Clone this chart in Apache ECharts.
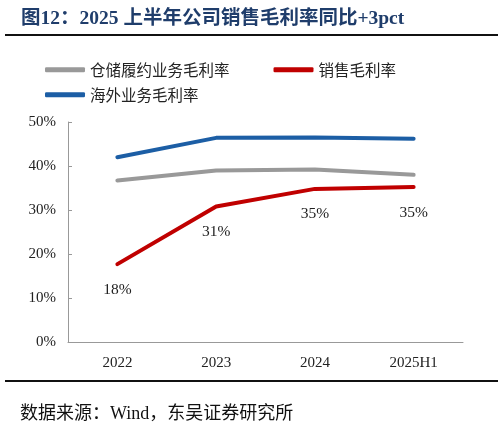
<!DOCTYPE html>
<html>
<head>
<meta charset="utf-8">
<script src="https://cdn.jsdelivr.net/npm/echarts@6/dist/echarts.min.js"></script>
<style>
html,body{margin:0;padding:0;background:#fff;}
#main{width:504px;height:428px;}
</style>
</head>
<body>
<div id="main"></div>
<script>
// 数据
var years = ['2022', '2023', '2024', '2025H1'];
var warehouseMargin = [36.7, 39.0, 39.2, 38.0];   // 仓储履约业务毛利率
var salesMargin = [17.7, 30.8, 34.8, 35.2];       // 销售毛利率
var overseasMargin = [42.0, 46.4, 46.5, 46.2];    // 海外业务毛利率
var salesLabels = ['18%', '31%', '35%', '35%'];
var yTicks = [0, 10, 20, 30, 40, 50];

var serif = '"Liberation Serif","Times New Roman",serif';
var cjk = '"Noto Sans CJK SC",sans-serif';

var myChart = echarts.init(document.getElementById('main'), null, {renderer: 'canvas'});

var option = {
    backgroundColor: '#fff',
    animation: false,
    title: [
        {
            text: '图12：2025 上半年公司销售毛利率同比+3pct',
            left: 16,
            top: 4,
            textStyle: {
                fontSize: 19.5,
                fontWeight: 'bold',
                fontFamily: serif + ',' + cjk,
                color: '#1f3d6b'
            }
        },
        {
            text: '数据来源：Wind，东吴证券研究所',
            left: 15,
            top: 400,
            textStyle: {
                fontSize: 18,
                fontWeight: 'normal',
                fontFamily: serif + ',' + cjk,
                color: '#111'
            }
        }
    ],
    graphic: [
        {type: 'line', shape: {x1: 5, y1: 35, x2: 498, y2: 35}, style: {stroke: '#111', lineWidth: 2}},
        {type: 'line', shape: {x1: 5, y1: 381, x2: 498, y2: 381}, style: {stroke: '#111', lineWidth: 2}}
    ],
    legend: [
        {
            data: ['仓储履约业务毛利率', '销售毛利率'],
            left: 40,
            top: 57,
            itemWidth: 40,
            itemHeight: 5,
            itemGap: 44,
            icon: 'roundRect',
            textStyle: {fontFamily: cjk, fontSize: 15.5, color: '#222'}
        },
        {
            data: ['海外业务毛利率'],
            left: 40,
            top: 82,
            itemWidth: 40,
            itemHeight: 5,
            icon: 'roundRect',
            textStyle: {fontFamily: cjk, fontSize: 15.5, color: '#222'}
        }
    ],
    grid: {left: 68, right: 41, top: 122, bottom: 86},
    xAxis: {
        type: 'category',
        data: years,
        boundaryGap: true,
        axisLine: {lineStyle: {color: '#999', width: 1}},
        axisTick: {inside: true, length: 4, lineStyle: {color: '#999'}},
        axisLabel: {fontFamily: serif, fontSize: 15, color: '#222', margin: 14}
    },
    yAxis: {
        type: 'value',
        min: yTicks[0],
        max: yTicks[yTicks.length - 1],
        interval: 10,
        splitLine: {show: false},
        axisLine: {show: true, lineStyle: {color: '#999', width: 1}},
        axisTick: {show: true, inside: true, length: 4, lineStyle: {color: '#999'}},
        axisLabel: {
            fontFamily: serif, fontSize: 15, color: '#222', margin: 12,
            formatter: function (v) { return v + '%'; }
        }
    },
    series: [
        {
            name: '仓储履约业务毛利率',
            type: 'line',
            data: warehouseMargin,
            symbol: 'none',
            color: '#999999',
            lineStyle: {width: 4, cap: 'round'}
        },
        {
            name: '销售毛利率',
            type: 'line',
            data: salesMargin,
            symbol: 'circle',
            symbolSize: 1,
            showSymbol: true,
            color: '#c00000',
            lineStyle: {width: 4, cap: 'round'},
            label: {
                show: true,
                position: 'bottom',
                distance: 17,
                fontFamily: serif,
                fontSize: 15.5,
                color: '#222',
                formatter: function (p) { return salesLabels[p.dataIndex]; }
            }
        },
        {
            name: '海外业务毛利率',
            type: 'line',
            data: overseasMargin,
            symbol: 'none',
            color: '#1c5ea5',
            lineStyle: {width: 4, cap: 'round'}
        }
    ]
};
myChart.setOption(option);
</script>
</body>
</html>
